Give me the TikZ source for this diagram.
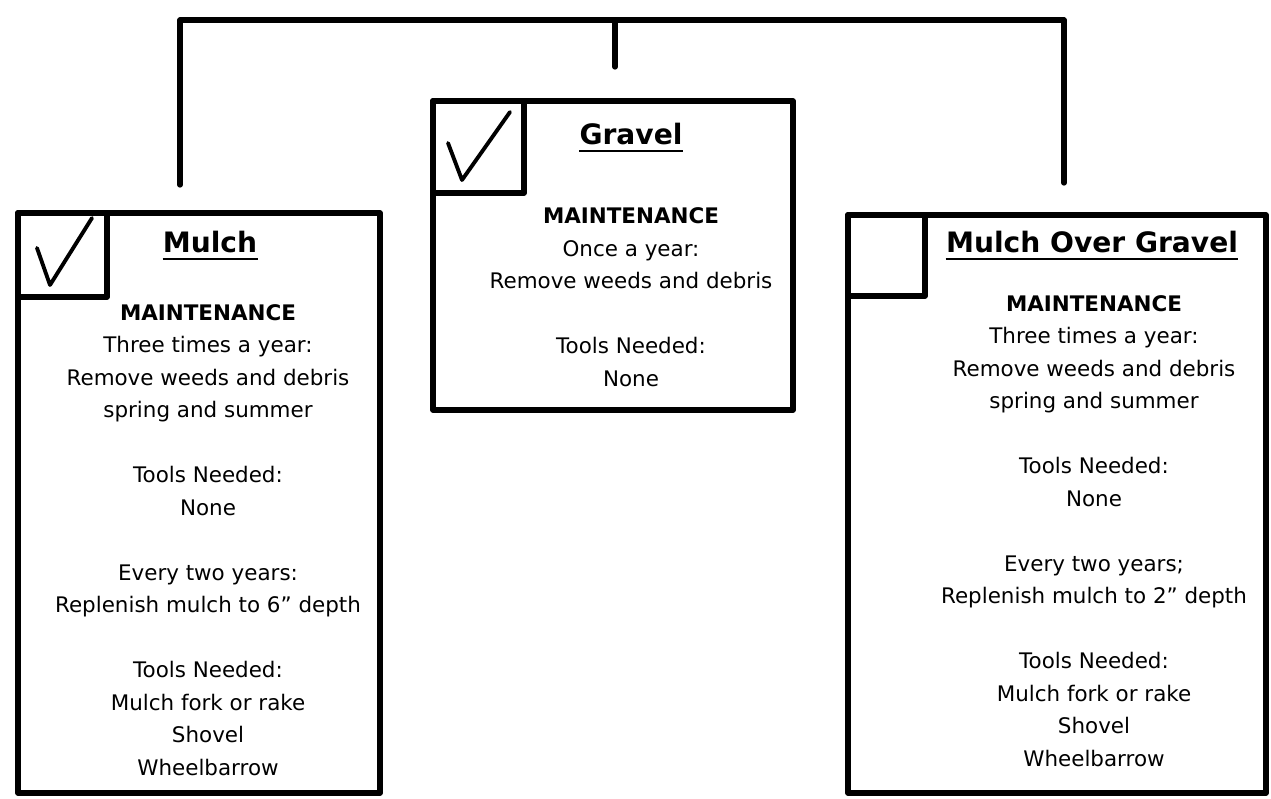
\documentclass[tikz,border=0pt]{standalone}
\usepackage{fontspec}
\setmainfont{DejaVu Sans}
\usepackage{tikz}

\begin{document}
\begin{tikzpicture}[x=0.02cm,y=-0.02cm,
    boxline/.style={line width=3pt,line cap=round,line join=round},
    tickline/.style={line width=2.2pt,line cap=round,line join=round},
    uline/.style={line width=1.3pt},
    title/.style={inner sep=0pt,anchor=base,font=\fontsize{16}{19}\selectfont\bfseries},
    bodytext/.style={align=center,inner sep=0pt,font=\fontsize{12.2}{18.5}\selectfont}]

\useasboundingbox (0,0) rectangle (1271,798);

% tree on top
\coordinate (T1) at (180,20);
\coordinate (T2) at (615,20);
\coordinate (T3) at (1064,20);
\coordinate (D1) at (180,185);
\coordinate (D2) at (615,67);
\coordinate (D3) at (1064,183);
\draw[boxline] (T1)--(T3);
\draw[boxline] (T1)--(D1);
\draw[boxline] (T2)--(D2);
\draw[boxline] (T3)--(D3);

% Mulch
\draw[boxline] (18,213) rectangle (380,793);
\draw[boxline] (18,213) rectangle (107,297);
\draw[tickline] (37,248)--(50,285)--(92,218);
\node[title] (mulchtitle) at (210,252) {Mulch};
\draw[uline] ([yshift=-4pt]mulchtitle.base west)--([yshift=-4pt]mulchtitle.base east);
\node[bodytext] (mulchbody) at (208,540) {\textbf{MAINTENANCE}\\
    Three times a year:\\
    Remove weeds and debris\\
    spring and summer\\[18.5pt]
    Tools Needed:\\
    None\\[18.5pt]
    Every two years:\\
    Replenish mulch to 6" depth\\[18.5pt]
    Tools Needed:\\
    Mulch fork or rake\\
    Shovel\\
    Wheelbarrow};

% Gravel
\draw[boxline] (433,101) rectangle (793,410);
\draw[boxline] (433,101) rectangle (524,193);
\draw[tickline] (448,143)--(462,180)--(510,112);
\node[title] (graveltitle) at (631,144) {Gravel};
\draw[uline] ([yshift=-4pt]graveltitle.base west)--([yshift=-4pt]graveltitle.base east);
\node[bodytext] (gravelbody) at (631,297) {\textbf{MAINTENANCE}\\
    Once a year:\\
    Remove weeds and debris\\[18.5pt]
    Tools Needed:\\
    None};

% Mulch Over Gravel
\draw[boxline] (848,215) rectangle (1266,793);
\draw[boxline] (848,215) rectangle (925,296);
\node[title] (mogtitle) at (1092,252) {Mulch Over Gravel};
\draw[uline] ([yshift=-4pt]mogtitle.base west)--([yshift=-4pt]mogtitle.base east);
\node[bodytext] (mogbody) at (1094,531) {\textbf{MAINTENANCE}\\
    Three times a year:\\
    Remove weeds and debris\\
    spring and summer\\[18.5pt]
    Tools Needed:\\
    None\\[18.5pt]
    Every two years;\\
    Replenish mulch to 2" depth\\[18.5pt]
    Tools Needed:\\
    Mulch fork or rake\\
    Shovel\\
    Wheelbarrow};

\end{tikzpicture}
\end{document}
